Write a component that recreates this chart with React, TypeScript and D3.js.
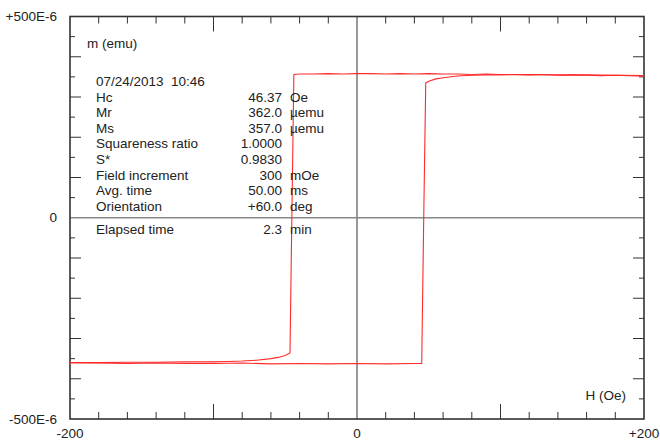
import * as d3 from "d3";

// descending branch (from +200 Oe down to -200 Oe), moment in 1E-6 emu
const descH = [200, 190, 180, 170, 160, 150, 140, 130, 120, 110, 100, 90, 80, 70, 60, 50, 40, 30, 20, 10, 0, -10, -20, -30, -40, -44, -45.4, -46.7, -50, -55, -60, -70, -80, -90, -100, -120, -140, -160, -180, -200];
const descM = [352, 353, 354, 353, 354, 355, 354, 356, 355, 356, 356, 357, 356, 357, 357, 358, 357, 358, 357, 358, 358, 357, 358, 357, 357, 356, 0, -336, -342, -347, -350, -354, -356, -357, -358, -358, -359, -359, -360, -360];

// ascending branch (from -200 Oe up to +200 Oe)
const ascH = [-200, -180, -160, -140, -120, -100, -80, -60, -40, -20, 0, 20, 40, 45.1, 46.5, 47.9, 50, 55, 60, 70, 80, 90, 100, 120, 140, 160, 180, 200];
const ascM = [-360, -361, -362, -361, -362, -362, -361, -363, -362, -363, -362, -363, -362, -362, 0, 335, 339, 345, 348, 352, 354, 355, 355, 356, 355, 355, 354, 353];

const xTickLabels = ["-200", "0", "+200"];
const xTickValues = [-200, 0, 200];
const yTickLabels = ["+500E-6", "0", "-500E-6"];
const yTickValues = [500, 0, -500];

const infoLabels = ["Hc", "Mr", "Ms", "Squareness ratio", "S*", "Field increment", "Avg. time", "Orientation"];
const infoValues = ["46.37", "362.0", "357.0", "1.0000", "0.9830", "300", "50.00", "+60.0"];
const infoUnits = ["Oe", "\u00b5emu", "\u00b5emu", "", "", "mOe", "ms", "deg"];
const dateText = "07/24/2013  10:46";
const elapsed = { label: "Elapsed time", value: "2.3", unit: "min" };

const W = 660;
const H = 443;
const left = 70;
const right = 644;
const top = 16.5;
const bottom = 419;

export default function App() {
  const x = d3.scaleLinear().domain([-200, 200]).range([left, right]);
  const y = d3.scaleLinear().domain([-500, 500]).range([bottom, top]);

  const line = d3
    .line<[number, number]>()
    .x((d) => x(d[0]))
    .y((d) => y(d[1]));

  const descPath = line(descH.map((h, i) => [h, descM[i]] as [number, number])) ?? undefined;
  const ascPath = line(ascH.map((h, i) => [h, ascM[i]] as [number, number])) ?? undefined;

  const xTicks = d3.range(-180, 200, 20).filter((v) => v !== 0);
  const yTicks = d3.range(-450, 500, 50).filter((v) => v !== 0);

  const font = "'Liberation Sans', Arial, sans-serif";
  const textColor = "#222";
  const axisColor = "#333";
  const rowY = (i: number) => 81.5 + i * 15.6;

  return (
    <svg
      width={W}
      height={H}
      style={{ position: "absolute", left: 0, top: 0, background: "#fff" }}
      fontFamily={font}
    >
      {/* center lines */}
      <line x1={x(0)} x2={x(0)} y1={top} y2={bottom} stroke="#555" strokeWidth={1.2} />
      <line x1={left} x2={right} y1={y(0)} y2={y(0)} stroke="#888" strokeWidth={1.5} />

      {/* x ticks, top and bottom */}
      {xTicks.map((v) => {
        const len = Math.abs(v) === 100 ? 15 : 7;
        return (
          <g key={"xt" + v} stroke={axisColor} strokeWidth={1}>
            <line x1={x(v)} x2={x(v)} y1={top} y2={top + len} />
            <line x1={x(v)} x2={x(v)} y1={bottom} y2={bottom - len} />
          </g>
        );
      })}

      {/* y ticks, left and right */}
      {yTicks.map((v) => {
        const len = v % 100 === 0 ? 11 : 5;
        return (
          <g key={"yt" + v} stroke={axisColor} strokeWidth={1}>
            <line x1={left} x2={left + len} y1={y(v)} y2={y(v)} />
            <line x1={right} x2={right - len} y1={y(v)} y2={y(v)} />
          </g>
        );
      })}

      {/* frame */}
      <rect x={left} y={top} width={right - left} height={bottom - top} fill="none" stroke={axisColor} strokeWidth={1.6} />

      {/* curves */}
      <path d={descPath} fill="none" stroke="#ff2a2a" strokeWidth={1.1} />
      <path d={ascPath} fill="none" stroke="#ff2a2a" strokeWidth={1.1} />

      {/* axis labels */}
      <g fontSize={13.5} fill={textColor}>
        {yTickValues.map((v, i) => (
          <text key={"yl" + v} x={57} y={y(v)} textAnchor="end" dominantBaseline="central">
            {yTickLabels[i]}
          </text>
        ))}
        {xTickValues.map((v, i) => (
          <text key={"xl" + v} x={x(v)} y={433} textAnchor="middle" dominantBaseline="central">
            {xTickLabels[i]}
          </text>
        ))}
        <text x={87} y={43} dominantBaseline="central">m (emu)</text>
        <text x={626} y={395} textAnchor="end" dominantBaseline="central">H (Oe)</text>
      </g>

      {/* info block */}
      <g fontSize={13.5} fill={textColor}>
        <text x={96} y={rowY(0)} dominantBaseline="central" style={{ whiteSpace: "pre" }}>
          {dateText}
        </text>
        {infoLabels.map((lab, i) => (
          <g key={lab}>
            <text x={96} y={rowY(i + 1)} dominantBaseline="central">{lab}</text>
            <text x={282} y={rowY(i + 1)} textAnchor="end" dominantBaseline="central">{infoValues[i]}</text>
            <text x={290} y={rowY(i + 1)} dominantBaseline="central">{infoUnits[i]}</text>
          </g>
        ))}
        <text x={96} y={229} dominantBaseline="central">{elapsed.label}</text>
        <text x={282} y={229} textAnchor="end" dominantBaseline="central">{elapsed.value}</text>
        <text x={290} y={229} dominantBaseline="central">{elapsed.unit}</text>
      </g>
    </svg>
  );
}
